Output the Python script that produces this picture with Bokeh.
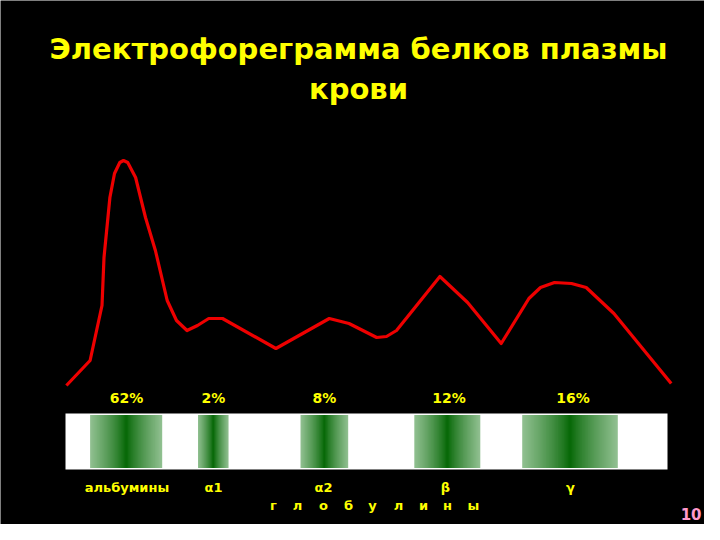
from bokeh.plotting import figure
from bokeh.models import Range1d
from bokeh.core.properties import value
from bokeh.embed import file_html
from bokeh.resources import INLINE

# Densitogram curve (mobility position, relative optical density)
curve_x = [65.9, 89.6, 101.5, 103.5, 109.4, 114.0, 119.3, 123.0, 127.2, 135.1, 145.0, 154.9,
           166.7, 176.0, 186.5, 197.0, 208.2, 222.0, 275.4, 328.8, 348.5, 376.2, 386.0,
           396.0, 439.4, 467.1, 500.7, 528.4, 540.0, 554.0, 571.0, 585.7, 613.4, 670.7]
curve_y = [0, 25, 80, 128, 188, 212, 223, 225, 223, 208, 168, 135,
           85, 65, 55, 60, 67, 67, 37, 67, 62, 48, 49,
           55, 109, 83, 42, 87, 98, 103, 102, 98, 72, 2]

# Fractions: names, shares, band extents on the strip
fractions = ["альбумины", "α1", "α2", "β", "γ"]
percents = ["62%", "2%", "8%", "12%", "16%"]
band_left = [89.6, 197.5, 300.0, 413.8, 521.7]
band_right = [161.7, 228.0, 347.7, 479.8, 617.3]
pct_x = [126.0, 213.0, 324.0, 448.5, 572.6]
name_x = [126.4, 213.0, 323.0, 445.0, 570.0]
glob_letters = ["г", "л", "о", "б", "у", "л", "и", "н", "ы"]
glob_x = [273, 297, 323, 348, 372, 398, 423, 447, 473]

strip_left, strip_right = 65.0, 667.0
strip_bottom, strip_top = -84.0, -28.0

p = figure(width=704, height=524, output_backend="svg", toolbar_location=None,
           x_range=Range1d(0, 704), y_range=Range1d(-139, 385),
           min_border=0, min_border_left=0, min_border_right=0,
           min_border_top=0, min_border_bottom=0)
p.background_fill_color = "black"
p.border_fill_color = "black"
p.outline_line_color = None
p.xaxis.visible = False
p.yaxis.visible = False
p.xgrid.visible = False
p.ygrid.visible = False

# white strip
p.quad(left=[strip_left], right=[strip_right], bottom=[strip_bottom], top=[strip_top],
       fill_color="white", line_color=None)

# gradient bands: nested rectangles, widest (lightest) first
dark = (0, 100, 0)
light = (145, 192, 145)
N = 40
L, R, B, T, C = [], [], [], [], []
for bl, br in zip(band_left, band_right):
    cen = (bl + br) / 2
    half = (br - bl) / 2
    for i in range(N):
        f = 1 - i / N
        h = half * f
        t = f ** 0.8
        col = tuple(int(round(dark[k] + (light[k] - dark[k]) * t)) for k in range(3))
        L.append(cen - h)
        R.append(cen + h)
        B.append(strip_bottom + 1.5)
        T.append(strip_top - 1.5)
        C.append("#%02x%02x%02x" % col)
p.quad(left=L, right=R, bottom=B, top=T, fill_color=C, line_color=None)

# curve
p.line(curve_x, curve_y, line_color="#ee0000", line_width=3.2, line_join="round")

yellow = "#ffff00"
font = value("DejaVu Sans")

p.text(x=pct_x, y=[-12] * 5, text=percents, text_color=yellow, text_font=font,
       text_font_size="14px", text_font_style="bold", text_align="center",
       text_baseline="middle")
p.text(x=name_x, y=[-102] * 5, text=fractions, text_color=yellow, text_font=font,
       text_font_size="13px", text_font_style="bold", text_align="center",
       text_baseline="middle")
p.text(x=glob_x, y=[-120] * len(glob_x), text=glob_letters, text_color=yellow,
       text_font=font, text_font_size="13px", text_font_style="bold",
       text_align="center", text_baseline="middle")

p.text(x=[358, 358], y=[337, 297], text=["Электрофореграмма белков плазмы", "крови"],
       text_color=yellow, text_font=font, text_font_size="29px",
       text_font_style="bold", text_align="center", text_baseline="middle")

p.text(x=[701], y=[-128], text=["10"], text_color="#ff99cc", text_font=font,
       text_font_size="15px", text_font_style="bold", text_align="right",
       text_baseline="middle")

open("out.html", "w").write(file_html(p, INLINE))
